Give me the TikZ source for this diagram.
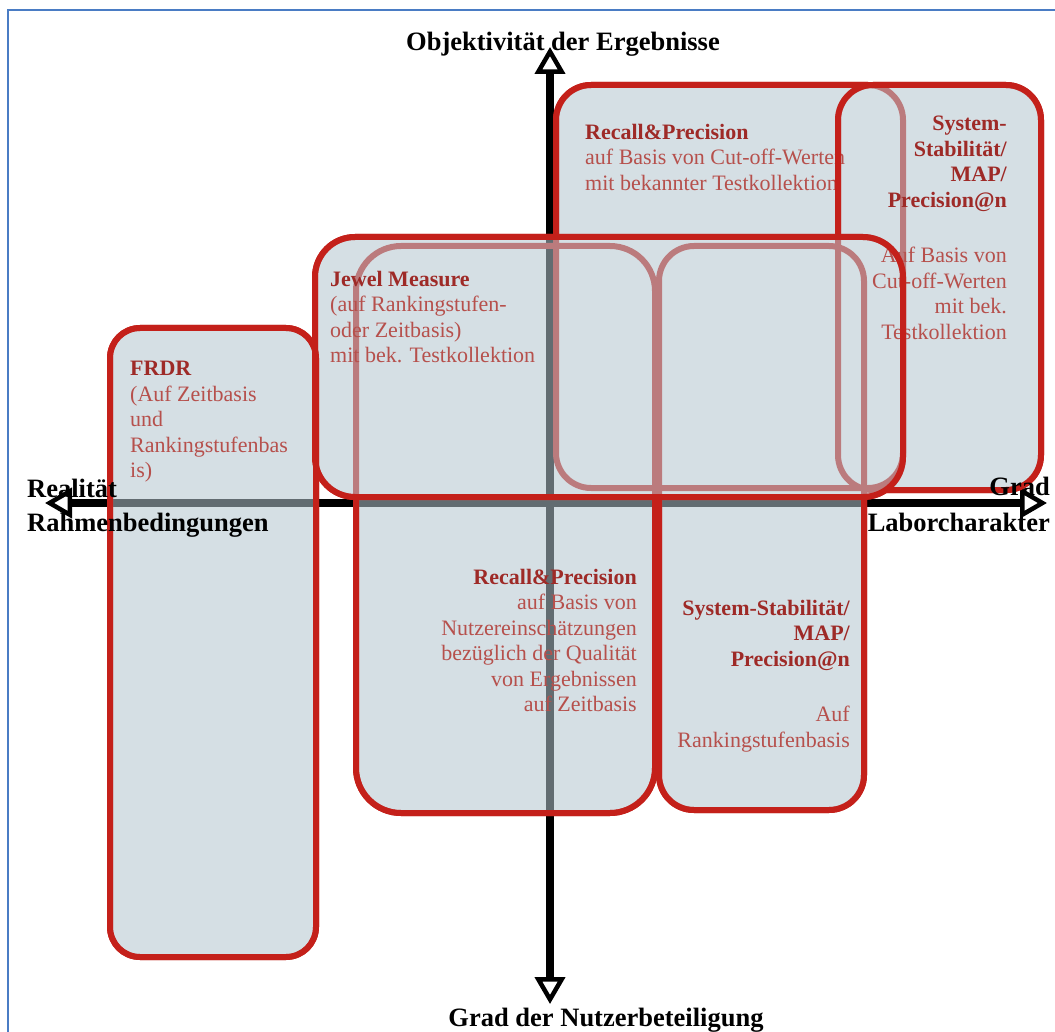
\documentclass[tikz,border=0pt]{standalone}
\usepackage{fontspec}
\setmainfont{Liberation Serif}
\usetikzlibrary{arrows.meta}
\definecolor{boxfill}{HTML}{B4C6CF}
\definecolor{boxred}{HTML}{C4201A}
\definecolor{headred}{HTML}{9E2A27}
\definecolor{bodyred}{HTML}{B6504C}
\definecolor{frameblue}{HTML}{4A7CC4}
\newcommand\boxhead[1]{{\color{headred}\bfseries #1}}
% clip to the outside of a box node (#1 name, #2 corner radius):
% big rectangle plus the box traced the other way round (nonzero rule)
\newcommand\outsideof[2]{\clip[rounded corners=#2pt] (-50,-50) rectangle (1105,1082)
  (#1.south west) rectangle (#1.north east);}
\begin{document}
\begin{tikzpicture}[x=1pt,y=-1pt,
  boxshape/.style={rectangle, inner sep=0pt, outer sep=0pt},
  bordline/.style={draw=boxred, line width=6pt},
  bodytext/.style={font=\fontsize{22}{25.5}\selectfont, text=bodyred, inner sep=0pt},
  axislabel/.style={font=\fontsize{26.5}{30}\selectfont\bfseries, text=black, inner sep=0pt},
  tipstyle/.tip={Triangle[open,length=27pt,width=30pt,line width=4.5pt]},
  axisline/.style={line width=8pt, draw=black, tipstyle-tipstyle},
  framebox/.style={draw=frameblue, line width=2pt}]
\useasboundingbox (0,0) rectangle (1055,1032);
\fill[white] (0,0) rectangle (1055,1032);
\draw[framebox] (8,1032) -- (8,10) -- (1055,10);

% box placeholders (named)
\path node[boxshape, minimum width=347pt, minimum height=403pt] (A) at (729.5,286.5) {};
\path node[boxshape, minimum width=203pt, minimum height=405pt] (B) at (939.5,287.5) {};
\path node[boxshape, minimum width=206pt, minimum height=629pt] (D) at (213,642.5) {};
\path node[boxshape, minimum width=299pt, minimum height=567pt] (E) at (505.5,529.5) {};
\path node[boxshape, minimum width=205pt, minimum height=564pt] (F) at (761.5,528) {};
\path node[boxshape, minimum width=588pt, minimum height=260pt] (C) at (609,367) {};

% axes
\coordinate (yT) at (550,47);
\coordinate (yB) at (550,1004);
\coordinate (xL) at (45,503);
\coordinate (xR) at (1047,503);
\draw[axisline] (yB) -- (yT);
\draw[axisline] (xL) -- (xR);

% all borders (later faded by the fill)
\foreach \n/\r in {A/35,B/35,D/30,E/45,F/35,C/40}
  \draw[bordline, rounded corners=\r pt] (\n.north west) rectangle (\n.south east);

% one translucent fill over the union of all boxes
\fill[boxfill, fill opacity=0.55]
  (A.north west) [rounded corners=35pt] rectangle (A.south east)
  (B.north west) [rounded corners=35pt] rectangle (B.south east)
  (D.north west) [rounded corners=30pt] rectangle (D.south east)
  (E.north west) [rounded corners=45pt] rectangle (E.south east)
  (F.north west) [rounded corners=35pt] rectangle (F.south east)
  (C.north west) [rounded corners=40pt] rectangle (C.south east);

% texts
\node[bodytext, anchor=north west, align=left] (Atext) at (585,124)
  {\boxhead{Recall\&Precision}\\auf Basis von Cut-off-Werten\\mit bekannter Testkollektion};
\node[bodytext, anchor=north east, align=right] (Btext) at (1007,116)
  {\boxhead{System-}\\\boxhead{Stabilität/}\\\boxhead{MAP/}\\\boxhead{Precision@n}\\[30pt]Auf Basis von\\Cut-off-Werten\\mit bek.\\Testkollektion};
\node[bodytext, anchor=north west, align=left] (Dtext) at (130,361)
  {\boxhead{FRDR}\\(Auf Zeitbasis\\und\\Rankingstufenbas\\is)};
\node[bodytext, anchor=north east, align=right] (Etext) at (637,569)
  {\boxhead{Recall\&Precision}\\auf Basis von\\Nutzereinschätzungen\\bezüglich der Qualität\\von Ergebnissen\\auf Zeitbasis};
\node[bodytext, anchor=north east, align=right] (Ftext) at (850,600)
  {\boxhead{System-Stabilität/}\\\boxhead{MAP/}\\\boxhead{Precision@n}\\[30pt]Auf\\Rankingstufenbasis};
\node[bodytext, anchor=north west, align=left] (Ctext) at (330,271)
  {\boxhead{Jewel Measure}\\(auf Rankingstufen-\\oder Zeitbasis)\\mit bek. Testkollektion};

% bold borders where no later box lies over them
\begin{scope}
  \outsideof{B}{35}\outsideof{E}{45}\outsideof{F}{35}\outsideof{C}{40}
  \draw[bordline, rounded corners=35pt] (A.north west) rectangle (A.south east);
\end{scope}
\begin{scope}
  \outsideof{F}{35}\outsideof{C}{40}
  \draw[bordline, rounded corners=35pt] (B.north west) rectangle (B.south east);
\end{scope}
\draw[bordline, rounded corners=30pt] (D.north west) rectangle (D.south east);
\begin{scope}
  \outsideof{F}{35}\outsideof{C}{40}
  \draw[bordline, rounded corners=45pt] (E.north west) rectangle (E.south east);
\end{scope}
\begin{scope}
  \outsideof{C}{40}
  \draw[bordline, rounded corners=35pt] (F.north west) rectangle (F.south east);
\end{scope}
\draw[bordline, rounded corners=40pt] (C.north west) rectangle (C.south east);

% axis labels
\node[axislabel, anchor=base] (ytop) at (563,51) {Objektivität der Ergebnisse};
\node[axislabel, anchor=base] (ybot) at (606,1026) {Grad der Nutzerbeteiligung};
\node[axislabel, anchor=base west] (xl1) at (27,497) {Realität};
\node[axislabel, anchor=base west] (xl2) at (27,531) {Rahmenbedingungen};
\node[axislabel, anchor=base east] (xr1) at (1050,495) {Grad};
\node[axislabel, anchor=base east] (xr2) at (1050,531) {Laborcharakter};
\end{tikzpicture}
\end{document}
